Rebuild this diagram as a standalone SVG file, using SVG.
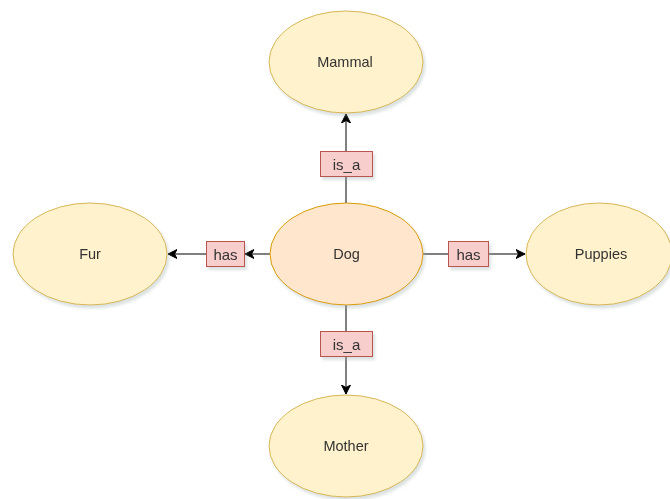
<svg xmlns="http://www.w3.org/2000/svg" width="670" height="499" viewBox="0 0 670 499">
<defs>
<style>
.n{fill:#fff2cc;stroke:#d6b656;stroke-width:1}
.c{fill:#ffe6cc;stroke:#d79b00;stroke-width:1}
.l{fill:#f8cecc;stroke:#b85450;stroke-width:1}
.e{stroke:#000;stroke-width:1;fill:none}
text{font-family:"Liberation Sans",Arial,sans-serif;font-size:14.5px;fill:#333;text-anchor:middle;dominant-baseline:central}
.sh{filter:url(#shadow)}
</style>
<filter id="shadow" x="-20%" y="-20%" width="150%" height="150%">
<feGaussianBlur in="SourceAlpha" stdDeviation="1.5"/>
<feOffset dx="2" dy="3" result="b"/>
<feFlood flood-color="#9aa" flood-opacity="0.35"/>
<feComposite in2="b" operator="in"/>
<feMerge><feMergeNode/><feMergeNode in="SourceGraphic"/></feMerge>
</filter>
<marker id="arr" viewBox="0 0 10 10" refX="9" refY="5" markerWidth="10" markerHeight="10" markerUnits="userSpaceOnUse" orient="auto">
<path d="M0,0.5 L9,5 L0,9.5 L2.5,5 Z" fill="#000" stroke="#000" stroke-width="1"/>
</marker>
</defs>
<rect width="670" height="499" fill="#fff"/>
<g id="connectors">
<line class="e" x1="346" y1="203" x2="346" y2="177"/>
<line class="e" x1="346" y1="152" x2="346" y2="114" marker-end="url(#arr)"/>
<line class="e" x1="270" y1="254" x2="245" y2="254" marker-end="url(#arr)"/>
<line class="e" x1="206" y1="254" x2="168" y2="254" marker-end="url(#arr)"/>
<line class="e" x1="423" y1="254" x2="448" y2="254"/>
<line class="e" x1="488" y1="254" x2="525" y2="254" marker-end="url(#arr)"/>
<line class="e" x1="346" y1="305" x2="346" y2="331"/>
<line class="e" x1="346" y1="357" x2="346" y2="394" marker-end="url(#arr)"/>
</g>
<g id="mammal" class="sh"><ellipse class="n" cx="346" cy="62" rx="77" ry="51"/><text x="345" y="62">Mammal</text></g>
<g id="dog" class="sh"><ellipse class="c" cx="346.5" cy="254" rx="76.5" ry="51"/><text x="346.5" y="254">Dog</text></g>
<g id="fur" class="sh"><ellipse class="n" cx="90" cy="254" rx="77" ry="51"/><text x="90" y="254">Fur</text></g>
<g id="puppies" class="sh"><ellipse class="n" cx="599" cy="254" rx="73" ry="51"/><text x="601" y="254">Puppies</text></g>
<g id="mother" class="sh"><ellipse class="n" cx="346" cy="446" rx="77" ry="51"/><text x="346" y="446">Mother</text></g>
<g id="label-isa-top" class="sh"><rect class="l" x="320.5" y="151.5" width="52" height="25"/><text x="346.5" y="164" style="font-size:15px">is_a</text></g>
<g id="label-has-left" class="sh"><rect class="l" x="206.5" y="241.5" width="38" height="25"/><text x="225.5" y="254" style="font-size:15px">has</text></g>
<g id="label-has-right" class="sh"><rect class="l" x="448.5" y="241.5" width="40" height="25"/><text x="468.5" y="254" style="font-size:15px">has</text></g>
<g id="label-isa-bottom" class="sh"><rect class="l" x="320.5" y="331.5" width="52" height="25"/><text x="346.5" y="344" style="font-size:15px">is_a</text></g>
</svg>
